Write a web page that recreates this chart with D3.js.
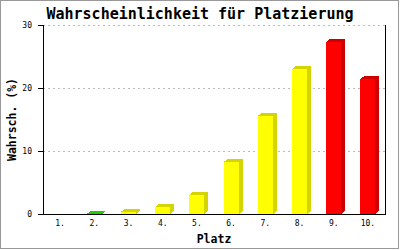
<!DOCTYPE html>
<html><head><meta charset="utf-8">
<script src="https://cdn.jsdelivr.net/npm/d3@7"></script>
<style>body{margin:0;background:#fff}svg{display:block}</style>
</head><body>
<svg id="c" width="400" height="250"></svg>
<script>
const categories = ["1.","2.","3.","4.","5.","6.","7.","8.","9.","10."];
const values = [0, 0.05, 0.35, 1.1, 3.0, 8.3, 15.6, 23.0, 27.3, 21.4];
const colorGroups = ["green","green","yellow","yellow","yellow","yellow","yellow","yellow","red","red"];
const yTicks = [0, 10, 20, 30];
const title = "Wahrscheinlichkeit für Platzierung";
const xTitle = "Platz";
const yTitle = "Wahrsch. (%)";

const palette = {
  green: {front:"#00dd00", side:"#22cc00"},
  yellow:{front:"#ffff00", side:"#d4d400"},
  red:   {front:"#ff0000", side:"#cc0000"}
};
const mono = "'DejaVu Sans Mono', 'Liberation Mono', monospace";
const svg = d3.select("#c");
const L = 43, R = 385, T = 25, B = 214, DX = 4, DY = 3;

svg.append("rect").attr("x",0.5).attr("y",0.5).attr("width",398).attr("height",248)
  .attr("fill","#fff").attr("stroke","#999").attr("stroke-width",1);

const x = d3.scaleBand().domain(categories).range([L,R]).paddingInner(0.56).paddingOuter(0.28);
const y = d3.scaleLinear().domain([0,30]).range([B,T]);

// grid
svg.append("g").selectAll("line").data(yTicks.filter(d=>d>0)).join("line")
  .attr("x1",L).attr("x2",R).attr("y1",d=>Math.round(y(d))+0.5).attr("y2",d=>Math.round(y(d))+0.5)
  .attr("stroke","#bbb").attr("stroke-dasharray","2,3").attr("shape-rendering","crispEdges");

// bars
const bars = svg.append("g").attr("shape-rendering","crispEdges");
categories.forEach((c,i)=>{
  const v = values[i];
  if (v <= 0) return;
  const x0 = Math.round(x(c)), w = 15, yt = y(v), col = palette[colorGroups[i]];
  bars.append("polygon").attr("fill",col.side)
    .attr("points",[[x0+w,yt],[x0+w+DX,yt-DY],[x0+w+DX,B-DY],[x0+w,B]].join(" "));
  bars.append("polygon").attr("fill",col.side)
    .attr("points",[[x0,yt],[x0+DX,yt-DY],[x0+w+DX,yt-DY],[x0+w,yt]].join(" "));
  bars.append("rect").attr("fill",col.front).attr("x",x0).attr("y",yt).attr("width",w).attr("height",B-yt);
});

// axes
const ax = svg.append("g").attr("stroke","#000").attr("stroke-width",1.2).attr("shape-rendering","crispEdges");
ax.append("line").attr("x1",L+0.5).attr("x2",L+0.5).attr("y1",T).attr("y2",B+0.5);
ax.append("line").attr("x1",R+0.5).attr("x2",R+0.5).attr("y1",T).attr("y2",B+0.5);
ax.append("line").attr("x1",L).attr("x2",R+1).attr("y1",B+0.5).attr("y2",B+0.5);
ax.selectAll(".tk").data(yTicks).join("line").attr("class","tk")
  .attr("x1",L-5).attr("x2",L).attr("y1",d=>Math.round(y(d))+0.5).attr("y2",d=>Math.round(y(d))+0.5);

svg.append("g").selectAll("text").data(yTicks).join("text")
  .attr("x",32).attr("y",d=>y(d)+3).attr("text-anchor","end")
  .attr("font-family",mono).attr("font-size",8).text(d=>d);

svg.append("g").selectAll("text").data(categories).join("text")
  .attr("x",d=>x(d)+x.bandwidth()/2).attr("y",226).attr("text-anchor","middle")
  .attr("font-family",mono).attr("font-size",8).text(d=>d);

svg.append("text").attr("x",200).attr("y",19).attr("text-anchor","middle")
  .attr("font-family",mono).attr("font-weight","bold").attr("font-size",15).text(title);
svg.append("text").attr("x",(L+R)/2).attr("y",243).attr("text-anchor","middle")
  .attr("font-family",mono).attr("font-weight","bold").attr("font-size",11.5).text(xTitle);
svg.append("text").attr("transform",`translate(16,${(T+B)/2}) rotate(-90)`).attr("text-anchor","middle")
  .attr("font-family",mono).attr("font-weight","bold").attr("font-size",11.5).text(yTitle);
</script>
</body></html>
